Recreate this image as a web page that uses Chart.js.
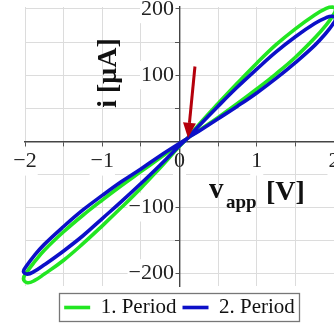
<!DOCTYPE html>
<html><head><meta charset="utf-8">
<script src="https://cdn.jsdelivr.net/npm/chart.js@4.4.1/dist/chart.umd.min.js"></script>
<style>html,body{margin:0;padding:0;background:#fff;}#wrap{width:334px;height:323px;position:relative;}</style>
</head><body><div id="wrap"><canvas id="c" width="334" height="323"></canvas></div>
<script>
// ---- data ----
const SERIES_NAMES = ['1. Period', '2. Period'];
const P1_V = [0.1,0.25,0.5,0.75,1.0,1.25,1.5,1.75,1.9,1.98,2.02,1.98,1.9,1.75,1.5,1.25,1.0,0.75,0.5,0.25,0.1,
  -0.25,-0.5,-0.75,-1.0,-1.25,-1.5,-1.75,-1.88,-1.97,-2.02,-1.97,-1.88,-1.75,-1.5,-1.25,-1.0,-0.75,-0.5,-0.25,0.1];
const P1_I = [4,25,57,88,118,146,170,191,201,203,199,189,176,156,127,102,79,57,36,16,4,
  -40,-71,-100,-128,-155,-180,-201,-211,-214,-208,-197,-183,-165,-137,-112,-89,-67,-46,-25,4];
const P2_V = [0.1,0.25,0.5,0.75,1.0,1.25,1.5,1.75,1.9,1.98,2.02,1.98,1.9,1.75,1.5,1.25,1.0,0.75,0.5,0.25,0.1,
  -0.25,-0.5,-0.75,-1.0,-1.25,-1.5,-1.75,-1.88,-1.97,-2.02,-1.97,-1.88,-1.75,-1.5,-1.25,-1.0,-0.75,-0.5,-0.25,0.1];
const P2_I = [4,23,53,82,109,135,158,178,187,189,185,176,164,145,119,95,73,53,34,15,4,
  -36,-64,-91,-117,-143,-166,-187,-197,-201,-197,-187,-173,-156,-129,-104,-82,-61,-42,-22,4];
const X_TICKS = [-2,-1.5,-1,-0.5,0,0.5,1,1.5,2];
const X_LABELS = ['\u22122','','\u22121','','0','','1','','2'];
const Y_TICKS = [-200,-150,-100,-50,0,50,100,150,200];
const Y_LABELS = ['\u2212200','','\u2212100','','','','100','','200'];
const ARROW_FROM = [0.2, 113];
const ARROW_TO = [0.11, 5];
const X_TITLE = ['v', 'app', '[V]'];
const Y_TITLE = 'i [\u03bcA]';

const toPts = (xs, ys) => xs.map((x, i) => ({x, y: ys[i]}));
const SERIF = "'Liberation Serif', 'Times New Roman', serif";

const deco = {
  id: 'deco',
  afterLayout(chart) {
    const lg = chart.legend;
    if (lg) { lg.top += 5; lg.bottom += 5; }
  },
  afterDatasetsDraw(chart) {
    const {ctx, scales: {x, y}} = chart;
    const x0 = x.getPixelForValue(ARROW_FROM[0]), y0 = y.getPixelForValue(ARROW_FROM[1]);
    const x1 = x.getPixelForValue(ARROW_TO[0]), y1 = y.getPixelForValue(ARROW_TO[1]);
    const ang = Math.atan2(y1 - y0, x1 - x0), hl = 15, hw = 6.5;
    const bx = x1 - hl * Math.cos(ang), by = y1 - hl * Math.sin(ang);
    ctx.save();
    ctx.strokeStyle = '#b5000c'; ctx.fillStyle = '#b5000c'; ctx.lineWidth = 3;
    ctx.beginPath(); ctx.moveTo(x0, y0); ctx.lineTo(bx, by); ctx.stroke();
    ctx.beginPath(); ctx.moveTo(x1, y1);
    ctx.lineTo(bx + hw * Math.sin(ang), by - hw * Math.cos(ang));
    ctx.lineTo(bx - hw * Math.sin(ang), by + hw * Math.cos(ang));
    ctx.closePath(); ctx.fill();
    ctx.restore();
  },
  afterDraw(chart) {
    const {ctx} = chart;
    ctx.save();
    ctx.fillStyle = '#111';
    ctx.save();
    ctx.translate(116, 73); ctx.rotate(-Math.PI / 2);
    ctx.font = 'bold 28px ' + SERIF; ctx.textAlign = 'center'; ctx.textBaseline = 'alphabetic';
    ctx.fillText(Y_TITLE, 0, 0);
    ctx.restore();
    ctx.textAlign = 'left'; ctx.textBaseline = 'alphabetic';
    ctx.font = 'bold 29px ' + SERIF;
    ctx.fillText(X_TITLE[0], 209, 198);
    ctx.font = 'bold 19px ' + SERIF;
    ctx.fillText(X_TITLE[1], 226, 208);
    ctx.font = 'bold 28px ' + SERIF;
    ctx.fillText(X_TITLE[2], 266, 200);
    const hb = chart.legend.legendHitBoxes;
    if (hb && hb.length) {
      const l = Math.min(...hb.map(b => b.left)) - 5;
      const r = Math.max(...hb.map(b => b.left + b.width)) + 4;
      ctx.strokeStyle = '#777'; ctx.lineWidth = 1.3;
      ctx.strokeRect(Math.round(l) + 0.5, 293.5, Math.round(r - l), 28);
    }
    ctx.restore();
  }
};

const zeroPad = s => { s.paddingLeft = 0; s.paddingRight = 0; s.paddingTop = 0; s.paddingBottom = 0; };

new Chart(document.getElementById('c'), {
  type: 'scatter',
  data: {
    datasets: [
      {label: SERIES_NAMES[0], data: toPts(P1_V, P1_I), showLine: true, borderColor: '#22e622', backgroundColor: '#22e622',
       borderWidth: 3.6, pointRadius: 0, tension: 0.4, order: 1, clip: 10},
      {label: SERIES_NAMES[1], data: toPts(P2_V, P2_I), showLine: true, borderColor: '#0c10c8', backgroundColor: '#0c10c8',
       borderWidth: 3.6, pointRadius: 0, tension: 0.4, order: 0, clip: 10}
    ]
  },
  options: {
    responsive: false, animation: false,
    layout: {autoPadding: false, padding: {left: 25, right: 0, top: 7, bottom: 0}},
    plugins: {
      tooltip: {enabled: false},
      legend: {
        position: 'bottom',
        labels: {
          font: {family: SERIF, size: 21}, color: '#111', padding: 6,
          usePointStyle: true, pointStyle: 'line', pointStyleWidth: 26, boxHeight: 4,
          sort: (a, b) => a.datasetIndex - b.datasetIndex
        }
      }
    },
    scales: {
      x: {
        type: 'linear', min: -2, max: 2, position: {y: 0},
        afterBuildTicks: s => { s.ticks = X_TICKS.map(v => ({value: v})); },
        afterFit: zeroPad,
        grid: {color: '#dcdcdc', lineWidth: 1, tickColor: '#555', tickLength: 4},
        border: {color: '#444', width: 1.4},
        ticks: {
          callback: (v, i) => X_LABELS[i], font: {family: SERIF, size: 22}, color: '#222',
          padding: 3, maxRotation: 0, autoSkip: false,
          showLabelBackdrop: c => X_LABELS[c.index] !== '', backdropColor: '#fff', backdropPadding: 1
        }
      },
      y: {
        type: 'linear', min: -219, max: 203, position: {x: 0},
        afterBuildTicks: s => { s.ticks = Y_TICKS.map(v => ({value: v})); },
        afterFit: zeroPad,
        grid: {color: '#dcdcdc', lineWidth: 1, tickColor: '#555', tickLength: 4},
        border: {color: '#444', width: 1.4},
        ticks: {
          callback: (v, i) => Y_LABELS[i] ? Y_LABELS[i] + ' ' : '', font: {family: SERIF, size: 22}, color: '#222',
          padding: 3, autoSkip: false,
          showLabelBackdrop: c => Y_LABELS[c.index] !== '', backdropColor: '#fff',
          backdropPadding: {left: 1, right: -4, top: 1, bottom: 1}
        }
      }
    }
  },
  plugins: [deco]
});
</script></body></html>
